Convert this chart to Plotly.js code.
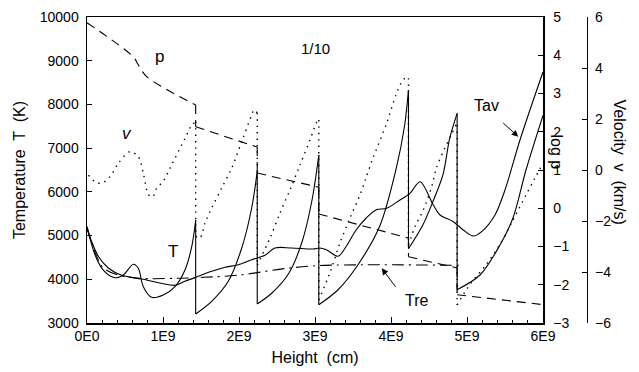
<!DOCTYPE html>
<html>
<head>
<meta charset="utf-8">
<script src="https://cdn.plot.ly/plotly-3.0.1.min.js"></script>
<style>html,body{margin:0;padding:0;background:#fff;}#chart{width:639px;height:372px;}</style>
</head>
<body>
<div id="chart"></div>
<script>
// Height in units of 1E9 cm (repeated height = shock front, drawn as a vertical drop)
const heightT = [0, 0.105, 0.214, 0.368, 0.478, 0.609, 0.675, 0.741, 0.851, 1.004, 1.158, 1.289, 1.378, 1.43, 1.43, 1.641, 1.859, 2.036, 2.167, 2.24, 2.24, 2.434, 2.658, 2.829, 2.961, 3.05, 3.05, 3.3, 3.566, 3.851, 4.07, 4.18, 4.23, 4.23, 4.421, 4.553, 4.684, 4.772, 4.87, 4.87, 5.171, 5.434, 5.605, 5.776, 6.0];
const tempT = [5203, 4562, 4212, 4036, 4098, 4343, 4251, 3830, 3588, 3640, 3830, 4212, 4745, 5350, 3206, 3496, 3954, 4716, 5631, 6470, 3435, 3686, 4144, 4853, 5814, 6843, 3418, 3755, 4334, 5212, 6546, 7529, 8330, 4700, 5249, 5784, 6392, 7225, 7797, 3762, 4098, 4784, 5402, 6500, 7750];

const heightTav = [0, 0.149, 0.28, 0.457, 0.72, 1.158, 1.289, 1.464, 1.641, 1.816, 1.991, 2.167, 2.342, 2.474, 2.693, 2.974, 3.062, 3.149, 3.303, 3.412, 3.543, 3.675, 3.807, 3.943, 4.118, 4.25, 4.382, 4.557, 4.645, 4.82, 4.951, 5.083, 5.193, 5.368, 5.5, 5.697, 6.0];
const tempTav = [5150, 4526, 4258, 4091, 4007, 3862, 3954, 4068, 4183, 4274, 4334, 4448, 4549, 4716, 4716, 4693, 4716, 4677, 4526, 4755, 5134, 5402, 5592, 5624, 5814, 5967, 6232, 5699, 5471, 5317, 5127, 4990, 5089, 5471, 6043, 7186, 8742];

const heightTre = [0, 0.105, 0.215, 0.41, 0.70, 1.18, 1.53, 2.01, 2.63, 3.13, 4.95];
const tempTre = [5200, 4620, 4258, 4097, 4022, 4022, 4045, 4098, 4251, 4319, 4319];

const heightP = [0, 0.609, 0.675, 0.786, 1.43, 1.43, 2.24, 2.24, 3.05, 3.05, 4.23, 4.23, 4.87, 4.87, 6.0];
const logP = [4.85, 3.96, 3.75, 3.44, 2.70, 2.13, 1.60, 0.92, 0.55, -0.15, -0.78, -1.27, -1.56, -2.26, -2.52];

const heightV = [0.02, 0.105, 0.193, 0.303, 0.412, 0.566, 0.675, 0.741, 0.786, 0.829, 0.872, 0.917, 1.004, 1.092, 1.158, 1.289, 1.378, 1.43, 1.43, 1.487, 1.553, 1.641, 1.772, 1.904, 2.036, 2.167, 2.197, 2.24, 2.24, 2.408, 2.539, 2.671, 2.803, 2.934, 3.039, 3.05, 3.05, 3.2, 3.329, 3.461, 3.592, 3.671, 3.763, 3.934, 4.066, 4.158, 4.224, 4.23, 4.23, 4.316, 4.425, 4.536, 4.596, 4.707, 4.793, 4.855, 4.87, 4.87, 5.036, 5.254, 5.43, 5.605, 5.776, 5.895, 6.0];
const velocity = [-0.2, -0.46, -0.52, -0.26, 0.26, 0.72, 0.52, -0.13, -0.78, -1.04, -1.03, -0.71, -0.44, 0.07, 0.46, 1.24, 1.76, 1.89, -2.6, -2.67, -2.08, -1.49, -0.71, 0.08, 1.11, 2.16, 2.35, 2.24, -3.73, -2.67, -1.69, -0.78, 0.2, 1.18, 1.96, 1.96, -5.1, -4.0, -2.86, -1.88, -0.98, -0.31, 0.47, 1.76, 2.94, 3.53, 3.65, 3.6, -2.94, -2.22, -1.57, -0.65, 0.07, 0.85, 1.37, 1.76, 1.76, -5.29, -4.5, -3.71, -2.93, -1.96, -0.98, -0.31, 0.27];

const xTickVals = [0, 1, 2, 3, 4, 5, 6];
const xTickText = ['0E0', '1E9', '2E9', '3E9', '4E9', '5E9', '6E9'];
const tTicks = [3000, 4000, 5000, 6000, 7000, 8000, 9000, 10000];
const tTickText = ['3000', '4000', '5000', '6000', '7000', '8000', '9000', '10000'];
const pTicks = [-3, -2, -1, 0, 1, 2, 3, 4, 5];
const vTicks = [-6, -4, -2, 0, 2, 4, 6];

const FONT = 'Liberation Sans, Arial, Helvetica, sans-serif';
const K = 'black';

// Split a series at shock fronts: smooth pieces between, straight vertical drops at the fronts
function buildTraces(xs, ys, yaxis, line) {
  const out = [];
  let cx = [xs[0]], cy = [ys[0]];
  const flush = () => {
    if (cx.length > 1) out.push({x: cx, y: cy, mode: 'lines', yaxis: yaxis, hoverinfo: 'skip',
      line: Object.assign({}, line, {shape: 'spline', smoothing: 0.9})});
  };
  for (let i = 1; i < xs.length; i++) {
    if (xs[i] === xs[i - 1]) {
      flush();
      out.push({x: [xs[i - 1], xs[i]], y: [ys[i - 1], ys[i]], mode: 'lines', yaxis: yaxis, hoverinfo: 'skip',
        line: Object.assign({}, line, {shape: 'linear'})});
      cx = [xs[i]]; cy = [ys[i]];
    } else {
      cx.push(xs[i]); cy.push(ys[i]);
    }
  }
  flush();
  return out;
}

const traces = [].concat(
  buildTraces(heightT, tempT, 'y', {color: K, width: 1.1}),
  buildTraces(heightTav, tempTav, 'y', {color: K, width: 1.1}),
  buildTraces(heightTre, tempTre, 'y', {color: K, width: 1.1, dash: '12px,5px,2px,5px'}),
  buildTraces(heightP, logP, 'y2', {color: K, width: 1.1, dash: '9px,6px'}),
  buildTraces(heightV, velocity, 'y3', {color: K, width: 1.4, dash: '1.4px,5px'})
);

const dom = (543 - 87) / 542;
const layout = {
  width: 639, height: 372,
  margin: {l: 87, r: 10, t: 17, b: 49},
  paper_bgcolor: 'white', plot_bgcolor: 'white',
  showlegend: false,
  font: {family: FONT, color: K, size: 14},
  xaxis: {
    domain: [0, dom], range: [0, 6], tickvals: xTickVals, ticktext: xTickText,
    ticks: 'inside', ticklen: 6, tickcolor: K, showline: true, linecolor: K, linewidth: 1.5, mirror: true,
    showgrid: false, zeroline: false, tickfont: {size: 14},
    minor: {dtick: 0.2, ticks: 'inside', ticklen: 3, tickcolor: K, showgrid: false},
    title: {text: 'Height  (cm)', font: {size: 16}, standoff: 8}
  },
  yaxis: {
    range: [3000, 10000], tickvals: tTicks, ticktext: tTickText, ticks: 'inside', ticklen: 5, tickcolor: K,
    showline: true, linecolor: K, linewidth: 1.5, showgrid: false, zeroline: false,
    tickfont: {size: 14}, ticklabelstandoff: 4,
    title: {text: 'Temperature  T  (K)', font: {size: 16}, standoff: 10}
  },
  yaxis2: {
    overlaying: 'y', side: 'right', anchor: 'x', range: [-3, 5], tickvals: pTicks,
    ticks: 'inside', ticklen: 5, tickcolor: K, showline: true, linecolor: K, linewidth: 1.5,
    showgrid: false, zeroline: false, tickfont: {size: 14}, ticklabelstandoff: 6
  },
  yaxis3: {
    overlaying: 'y', side: 'right', anchor: 'free', position: (587 - 87) / 542, range: [-6, 6], tickvals: vTicks,
    ticks: 'inside', ticklen: 5, tickcolor: K, showline: true, linecolor: K, linewidth: 1.2,
    showgrid: false, zeroline: false, tickfont: {size: 14}, ticklabelstandoff: 4
  },
  annotations: [
    {x: 0.96, y: 9092, xref: 'x', yref: 'y', text: 'p', showarrow: false, font: {size: 17}},
    {x: 3.0, y: 9284, xref: 'x', yref: 'y', text: '1/10', showarrow: false, font: {size: 15}},
    {x: 0.522, y: 7340, xref: 'x', yref: 'y', text: '<i>v</i>', showarrow: false, font: {size: 17}},
    {x: 1.136, y: 4631, xref: 'x', yref: 'y', text: 'T', showarrow: false, font: {size: 17}},
    {x: 5.26, y: 7987, xref: 'x', yref: 'y', text: 'Tav', showarrow: false, font: {size: 16}},
    {x: 5.675, y: 7262, ax: 5.457, ay: 7605, xref: 'x', yref: 'y', axref: 'x', ayref: 'y', text: '', showarrow: true, arrowhead: 2, arrowsize: 1.3, arrowwidth: 1, arrowcolor: K},
    {x: 4.338, y: 3526, xref: 'x', yref: 'y', text: 'Tre', showarrow: false, font: {size: 16}},
    {x: 3.878, y: 4251, ax: 4.075, ay: 3794, xref: 'x', yref: 'y', axref: 'x', ayref: 'y', text: '', showarrow: true, arrowhead: 2, arrowsize: 1.3, arrowwidth: 1, arrowcolor: K},
    {x: (567 - 87) / 542, y: 1 - (152 - 17) / 306, xref: 'paper', yref: 'paper', text: 'log p', textangle: 90, showarrow: false, font: {size: 16}},
    {x: (630 - 87) / 542, y: 1 - (162 - 17) / 306, xref: 'paper', yref: 'paper', text: 'Velocity  v  (km/s)', textangle: 90, showarrow: false, font: {size: 16}}
  ]
};

Plotly.newPlot('chart', traces, layout, {staticPlot: true, displayModeBar: false});
</script>
</body>
</html>
